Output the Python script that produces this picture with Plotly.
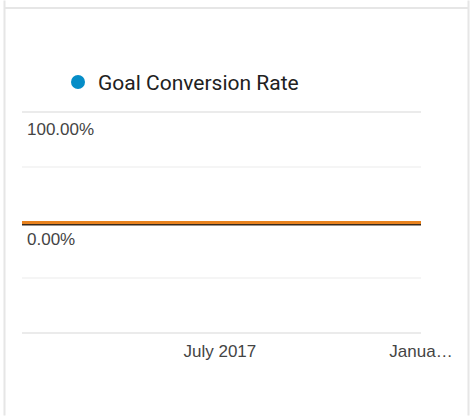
import plotly.graph_objects as go

# ---- data ----
months = ["2017-01-01", "2017-02-01", "2017-03-01", "2017-04-01", "2017-05-01",
          "2017-06-01", "2017-07-01", "2017-08-01", "2017-09-01", "2017-10-01",
          "2017-11-01", "2017-12-01", "2018-01-01"]
goal_conversion_rate = [0, 0, 0, 0, 0, 0, 0, 0, 0, 0, 0, 0, 0]
series_name = "Goal Conversion Rate"

x_tick_dates = ["2017-07-01", "2018-01-01"]
x_tick_labels = ["July 2017", "Janua\u2026"]
y_tick_values = [-100, 0, 100]
y_tick_labels = ["", "0.00%", "100.00%"]
y_minor_values = [-50, 50]
y_limit = 100

W, H = 470, 416
L, R = 22, 421            # plot area left/right in pixels
G_TOP, G_BOT = 112, 333   # pixel rows of +100 / -100 gridlines
PAD_UNITS = 3             # small range padding so edge gridlines stay visible
ppu = (G_BOT - G_TOP) / (2 * y_limit)
T = G_TOP - PAD_UNITS * ppu
B = G_BOT + PAD_UNITS * ppu

def px_x(p):
    return (p - L) / (R - L)

def px_y(p):
    return (B - p) / (B - T)

fig = go.Figure()

fig.add_trace(go.Scatter(
    x=months, y=goal_conversion_rate, mode="lines",
    line=dict(color="#e8821e", width=3), showlegend=False, hoverinfo="skip"))

# legend entry (blue dot)
fig.add_trace(go.Scatter(
    x=[None], y=[None], mode="markers", name=series_name,
    marker=dict(color="#058dc7", size=14), showlegend=True))

border = "#e6e6e6"
shapes = [
    dict(type="line", xref="paper", yref="paper", x0=px_x(4.5), x1=px_x(4.5),
         y0=px_y(0), y1=px_y(416), line=dict(color=border, width=2)),
    dict(type="line", xref="paper", yref="paper", x0=px_x(468.5), x1=px_x(468.5),
         y0=px_y(0), y1=px_y(416), line=dict(color=border, width=2)),
    dict(type="line", xref="paper", yref="paper", x0=px_x(4), x1=px_x(469),
         y0=px_y(7.5), y1=px_y(7.5), line=dict(color=border, width=2)),
    # dark shadow under the series line
    dict(type="line", xref="x", yref="y", ysizemode="pixel",
         yanchor=goal_conversion_rate[0], y0=-2, y1=-2,
         x0=months[0], x1=months[-1], layer="between",
         line=dict(color="#3a2a1c", width=2)),
]

fig.update_layout(
    width=W, height=H,
    margin=dict(l=L, r=W - R, t=T, b=H - B, pad=0, autoexpand=False),
    paper_bgcolor="white", plot_bgcolor="white",
    font=dict(family="Liberation Sans, Arial, sans-serif", size=17, color="#444444"),
    showlegend=True,
    legend=dict(orientation="h", x=px_x(80 - 22), xanchor="left",
                y=px_y(82), yanchor="middle",
                font=dict(family="Roboto, sans-serif", size=21, color="#212121"),
                bgcolor="rgba(0,0,0,0)"),
    shapes=shapes,
    xaxis=dict(
        range=[months[0], months[-1]], type="date",
        tickvals=x_tick_dates, ticktext=x_tick_labels,
        showgrid=False, zeroline=False, showline=False, ticks="",
        ticklabelstandoff=3,
        tickfont=dict(size=17, color="#444444"),
    ),
    yaxis=dict(
        range=[-y_limit - PAD_UNITS, y_limit + PAD_UNITS],
        tickvals=y_tick_values, ticktext=y_tick_labels,
        showgrid=True, gridcolor="#ebebeb", gridwidth=2,
        zeroline=False, showline=False, ticks="",
        ticklabelposition="inside", ticklabelshift=17, ticklabelstandoff=2,
        tickfont=dict(size=17, color="#444444"),
        minor=dict(tickvals=y_minor_values, showgrid=True,
                   gridcolor="#f5f5f5", gridwidth=2, ticks=""),
    ),
)

fig.write_html("out.html", config={"displayModeBar": False},
               post_script="document.body.style.margin='0';")
